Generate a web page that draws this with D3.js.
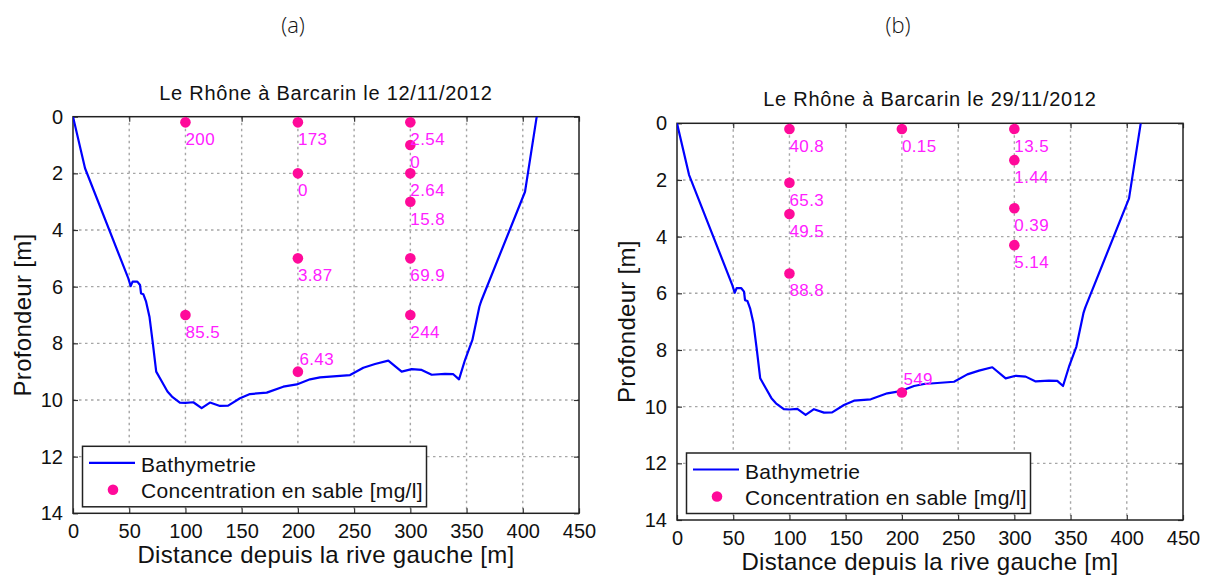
<!DOCTYPE html>
<html>
<head>
<meta charset="utf-8">
<script src="https://cdn.jsdelivr.net/npm/d3@7"></script>
<style>
  html, body { margin: 0; padding: 0; background: #fff; }
  svg { display: block; }
</style>
</head>
<body>
<svg id="chart" width="1209" height="576"></svg>
<script>
// ---------- DATA ----------
// Bathymetry profile (distance from left bank [m], depth [m])
const bathyDist  = [0, 10.7, 49.2, 51.3, 53, 57.2, 59.6, 60.5, 62.6, 65, 68, 71, 74, 79, 84, 88, 95, 100, 107, 114.4, 121.8, 130.7, 138, 148.5, 157.4, 172.3, 187, 199, 210.8, 219.7, 246.4, 258.2, 268.6, 280.4, 292.3, 301.2, 310.1, 319, 330.8, 338.2, 343.3, 348.6, 355.2, 361.4, 362.6, 363.4, 402, 412.4];
const bathyDepth = [0, 1.82, 5.71, 5.98, 5.82, 5.82, 5.94, 6.24, 6.27, 6.53, 7.06, 8.0, 9.0, 9.35, 9.7, 9.88, 10.09, 10.1, 10.08, 10.29, 10.09, 10.21, 10.2, 9.94, 9.79, 9.74, 9.53, 9.45, 9.27, 9.2, 9.12, 8.86, 8.73, 8.61, 9.0, 8.91, 8.94, 9.11, 9.08, 9.09, 9.27, 8.59, 7.88, 6.71, 6.56, 6.47, 2.65, 0];

// Sand concentration samples, 12/11/2012
const sampleDistA  = [100, 100, 200, 200, 200, 200, 300, 300, 300, 300, 300, 300];
const sampleDepthA = [0.2, 7.0, 0.2, 2.0, 5.0, 9.0, 0.2, 1.0, 2.0, 3.0, 5.0, 7.0];
const sampleConcA  = [200, 85.5, 173, 0, 3.87, 6.43, 2.54, 0, 2.64, 15.8, 69.9, 244];

// Sand concentration samples, 29/11/2012
const sampleDistB  = [100, 100, 100, 100, 200, 200, 300, 300, 300, 300];
const sampleDepthB = [0.2, 2.1, 3.2, 5.3, 0.2, 9.5, 0.2, 1.3, 3.0, 4.3];
const sampleConcB  = [40.8, 65.3, 49.5, 88.8, 0.15, 549, 13.5, 1.44, 0.39, 5.14];

const titles = ["Le Rhône à Barcarin le 12/11/2012", "Le Rhône à Barcarin le 29/11/2012"];
const panelTags = ["(a)", "(b)"];
const xTicks = [0, 50, 100, 150, 200, 250, 300, 350, 400, 450];
const yTicks = [0, 2, 4, 6, 8, 10, 12, 14];
const xLabel = "Distance depuis la rive gauche [m]";
const yLabel = "Profondeur [m]";
const legendLabels = ["Bathymetrie", "Concentration en sable [mg/l]"];

// ---------- LAYOUT ----------
const panels = [
  { left: 73,  top: 116.7, width: 506, height: 396.6, tagX: 293,
    dist: sampleDistA, depth: sampleDepthA, conc: sampleConcA },
  { left: 677, top: 123.3, width: 506, height: 396.7, tagX: 898,
    dist: sampleDistB, depth: sampleDepthB, conc: sampleConcB }
];

const LINE_COLOR = "#0000ff";
const DOT_COLOR = "#ff0a9a";
const LABEL_COLOR = "#ff20ff";
const GRID_COLOR = "#a6a6a6";
const FONT = "'Liberation Sans', Arial, Helvetica, sans-serif";
const fmt = d3.format(".3~g");

const svg = d3.select("#chart");
const bathy = bathyDist.map((d, i) => ({ x: d, y: bathyDepth[i] }));

panels.forEach((p, pi) => {
  const x = d3.scaleLinear().domain([0, 450]).range([0, p.width]);
  const y = d3.scaleLinear().domain([0, 14]).range([0, p.height]);

  // panel tag
  svg.append("text")
    .attr("x", p.tagX).attr("y", 33)
    .attr("text-anchor", "middle")
    .style("font-family", "'Open Sans', 'Noto Sans', sans-serif")
    .style("font-weight", 300)
    .style("font-size", "22px")
    .attr("fill", "#111")
    .text(panelTags[pi]);

  const g = svg.append("g").attr("transform", `translate(${p.left},${p.top})`);

  // clip
  const clipId = "clip" + pi;
  g.append("clipPath").attr("id", clipId)
    .append("rect").attr("width", p.width).attr("height", p.height);

  // grid (dotted, MATLAB style) drawn as paths
  const grid = g.append("g").attr("class", "grid");
  grid.selectAll("path.gx").data(xTicks.slice(1, -1)).join("path")
    .attr("class", "gx")
    .attr("d", d => `M${x(d)},0V${p.height}`)
    .attr("fill", "none")
    .style("stroke", GRID_COLOR).style("stroke-width", "1.4px")
    .style("stroke-dasharray", "2.5 3.5");
  grid.selectAll("path.gy").data(yTicks.slice(1, -1)).join("path")
    .attr("class", "gy")
    .attr("d", d => `M0,${y(d)}H${p.width}`)
    .attr("fill", "none")
    .style("stroke", GRID_COLOR).style("stroke-width", "1.4px")
    .style("stroke-dasharray", "2.5 3.5");

  // axes (ticks inside, MATLAB style)
  const tickLen = 5;
  const axB = d3.axisBottom(x).tickValues(xTicks).tickSize(-tickLen).tickPadding(11).tickFormat(d3.format("d"));
  const axL = d3.axisLeft(y).tickValues(yTicks).tickSize(-tickLen).tickPadding(10).tickFormat(d3.format("d"));
  const axT = d3.axisTop(x).tickValues(xTicks).tickSize(-tickLen).tickFormat("");
  const axR = d3.axisRight(y).tickValues(yTicks).tickSize(-tickLen).tickFormat("");

  const styleAxis = sel => {
    sel.select(".domain").remove();
    sel.selectAll(".tick line").attr("stroke", "#333").attr("stroke-width", 1.2);
    sel.selectAll(".tick text")
      .attr("fill", "#111")
      .style("font-family", FONT)
      .style("font-size", "20px");
  };
  g.append("g").attr("transform", `translate(0,${p.height})`).call(axB).call(styleAxis);
  g.append("g").call(axL).call(styleAxis);
  g.append("g").call(axT).call(styleAxis);
  g.append("g").attr("transform", `translate(${p.width},0)`).call(axR).call(styleAxis);

  // box
  g.append("rect").attr("width", p.width).attr("height", p.height)
    .attr("fill", "none").attr("stroke", "#222").attr("stroke-width", 1.5);

  // bathymetry line
  const line = d3.line().x(d => x(d.x)).y(d => y(d.y));
  g.append("path").datum(bathy)
    .attr("clip-path", `url(#${clipId})`)
    .attr("d", line)
    .attr("fill", "none").attr("stroke", LINE_COLOR)
    .attr("stroke-width", 2.2).attr("stroke-linejoin", "round");

  // samples
  const samples = p.dist.map((d, i) => ({ x: d, y: p.depth[i], c: p.conc[i] }));
  g.selectAll("circle.s").data(samples).join("circle")
    .attr("class", "s")
    .attr("cx", d => x(d.x)).attr("cy", d => y(d.y)).attr("r", 5.3)
    .attr("fill", DOT_COLOR);

  // labels: below the point, except near-bed samples where text goes above
  g.selectAll("text.lab").data(samples).join("text")
    .attr("class", "lab")
    .attr("x", d => x(d.x) + (d.y > 8.5 ? 1.5 : 0))
    .attr("y", d => y(d.y) + (d.y > 8.5 ? -7 : 23))
    .attr("fill", LABEL_COLOR)
    .style("font-family", FONT)
    .style("font-size", "17px")
    .style("letter-spacing", "0.4px")
    .text(d => fmt(d.c));

  // title
  g.append("text")
    .attr("x", p.width / 2).attr("y", -17)
    .attr("text-anchor", "middle")
    .attr("fill", "#111")
    .style("font-family", FONT).style("font-size", "20px")
    .style("letter-spacing", "0.75px")
    .text(titles[pi]);

  // axis labels
  g.append("text")
    .attr("x", p.width / 2).attr("y", p.height + 50)
    .attr("text-anchor", "middle")
    .attr("fill", "#111")
    .style("font-family", FONT).style("font-size", "24px")
    .style("letter-spacing", "0.3px")
    .text(xLabel);
  g.append("text")
    .attr("transform", `translate(-42,${p.height / 2}) rotate(-90)`)
    .attr("text-anchor", "middle")
    .attr("fill", "#111")
    .style("font-family", FONT).style("font-size", "24px")
    .style("letter-spacing", "0.3px")
    .text(yLabel);

  // legend
  const lg = g.append("g").attr("transform", `translate(9.5,${p.height - 67})`);
  lg.append("rect").attr("width", 344).attr("height", 60.5)
    .attr("fill", "#fff").attr("stroke", "#222").attr("stroke-width", 1.5);
  lg.append("line").attr("x1", 6.5).attr("x2", 52.5).attr("y1", 16.5).attr("y2", 16.5)
    .attr("stroke", LINE_COLOR).attr("stroke-width", 2.2);
  lg.append("circle").attr("cx", 30.5).attr("cy", 43.5).attr("r", 5.3).attr("fill", DOT_COLOR);
  lg.selectAll("text.leg").data(legendLabels).join("text")
    .attr("class", "leg")
    .attr("x", 58.5).attr("y", (d, i) => 25.5 + i * 26.5)
    .attr("fill", "#111")
    .style("font-family", FONT).style("font-size", "21px")
    .style("letter-spacing", "0.3px")
    .text(d => d);
});
</script>
</body>
</html>
